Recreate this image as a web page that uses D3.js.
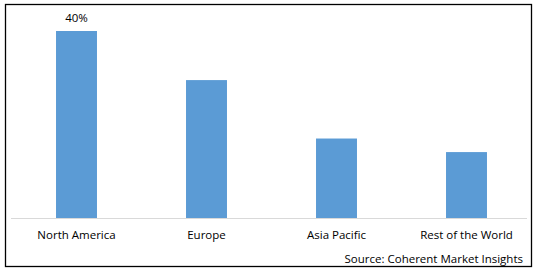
<!DOCTYPE html>
<html>
<head>
<meta charset="utf-8">
<script src="https://cdn.jsdelivr.net/npm/d3@7"></script>
<style>
  body { margin: 0; background: #fff; }
  svg { display: block; font-family: "Open Sans", "Noto Sans", sans-serif; }
</style>
</head>
<body>
<div class="Canvas"></div>
<script>
const regions = ['North America', 'Europe', 'Asia Pacific', 'Rest of the World'];
const shares = [40, 29.5, 17, 14.1];
const labels = ['40%', '', '', ''];

const width = 538;
const height = 272;
const barColor = '#5b9bd5';

const svg = d3.select('.Canvas').append('svg')
  .attr('width', width)
  .attr('height', height);

// outer frame
svg.append('rect')
  .attr('x', 5.5).attr('y', 4.5)
  .attr('width', 526).attr('height', 262)
  .attr('fill', 'none')
  .attr('stroke', '#000')
  .attr('stroke-width', 1.3);

const x = d3.scaleBand()
  .domain(regions)
  .range([11.5, 531.5])
  .paddingInner(0.685)
  .paddingOuter(0.3425);

const y = d3.scaleLinear()
  .domain([0, 40])
  .range([218, 31]);

svg.selectAll('rect.bar')
  .data(regions)
  .enter()
  .append('rect')
  .attr('class', 'bar')
  .attr('x', (d) => x(d))
  .attr('width', x.bandwidth())
  .attr('y', (d, i) => y(shares[i]))
  .attr('height', (d, i) => y(0) - y(shares[i]))
  .attr('fill', barColor);

// category axis
const axis = svg.append('g')
  .attr('transform', `translate(0,${y(0)})`)
  .call(d3.axisBottom(x).tickSize(0).tickPadding(13));
axis.select('.domain')
  .attr('stroke', '#d9d9d9')
  .attr('d', 'M11,0.5H527');
axis.selectAll('text')
  .attr('font-size', '11.5px')
  .attr('fill', '#000')
  .attr('font-family', '"Open Sans", "Noto Sans", sans-serif');

svg.selectAll('text.value')
  .data(regions)
  .enter()
  .append('text')
  .attr('class', 'value')
  .attr('x', (d) => x(d) + x.bandwidth() / 2)
  .attr('y', (d, i) => y(shares[i]) - 9)
  .attr('text-anchor', 'middle')
  .attr('font-size', '11.5px')
  .attr('fill', '#000')
  .text((d, i) => labels[i]);

svg.append('text')
  .attr('x', 523)
  .attr('y', 263)
  .attr('text-anchor', 'end')
  .attr('font-size', '11.5px')
  .attr('fill', '#000')
  .text('Source: Coherent Market Insights');
</script>
</body>
</html>
